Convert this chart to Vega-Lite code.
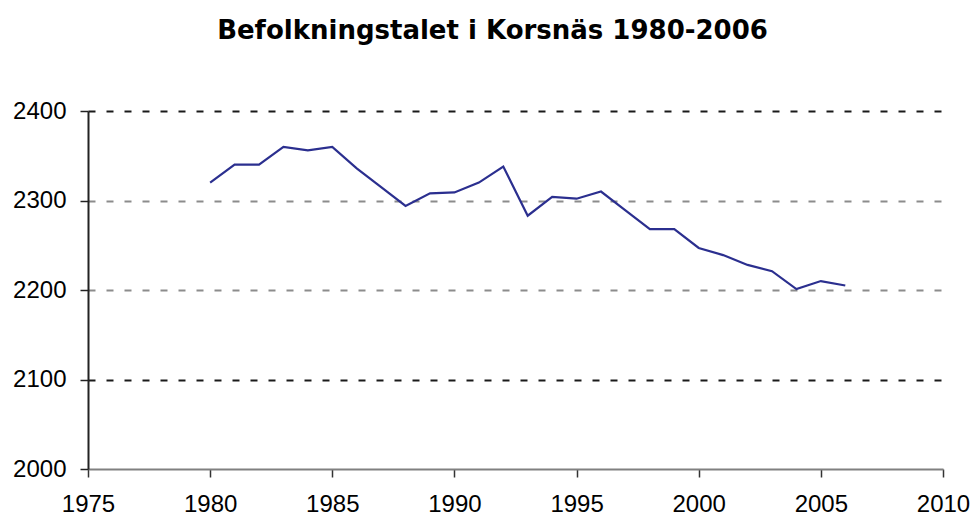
{
  "$schema": "https://vega.github.io/schema/vega-lite/v6.json",
  "width": 855,
  "height": 358,
  "autosize": "none",
  "padding": {"left": 88, "top": 111, "right": 30, "bottom": 49},
  "background": "white",
  "title": {
    "text": "Befolkningstalet i Korsnäs 1980-2006",
    "font": "DejaVu Sans",
    "fontSize": 26,
    "fontWeight": "bold",
    "color": "#000000",
    "anchor": "middle",
    "dx": -23,
    "offset": 55
  },
  "data": {
    "values": [
      {"year": 1980, "pop": 2320},
      {"year": 1981, "pop": 2340},
      {"year": 1982, "pop": 2340},
      {"year": 1983, "pop": 2360},
      {"year": 1984, "pop": 2356},
      {"year": 1985, "pop": 2360},
      {"year": 1986, "pop": 2336},
      {"year": 1987, "pop": 2315},
      {"year": 1988, "pop": 2294},
      {"year": 1989, "pop": 2308},
      {"year": 1990, "pop": 2309},
      {"year": 1991, "pop": 2320},
      {"year": 1992, "pop": 2338},
      {"year": 1993, "pop": 2283},
      {"year": 1994, "pop": 2304},
      {"year": 1995, "pop": 2302},
      {"year": 1996, "pop": 2310},
      {"year": 1997, "pop": 2289},
      {"year": 1998, "pop": 2268},
      {"year": 1999, "pop": 2268},
      {"year": 2000, "pop": 2247},
      {"year": 2001, "pop": 2239},
      {"year": 2002, "pop": 2228},
      {"year": 2003, "pop": 2221},
      {"year": 2004, "pop": 2201},
      {"year": 2005, "pop": 2210},
      {"year": 2006, "pop": 2205}
    ]
  },
  "mark": {"type": "line", "color": "#2B2F8F", "strokeWidth": 2.2},
  "encoding": {
    "x": {
      "field": "year",
      "type": "quantitative",
      "scale": {"domain": [1975, 2010], "nice": false, "zero": false},
      "axis": {
        "title": null,
        "values": [1975, 1980, 1985, 1990, 1995, 2000, 2005, 2010],
        "format": "d",
        "grid": false,
        "domainColor": "#808080",
        "domainWidth": 2,
        "tickColor": "#333333",
        "tickWidth": 1.5,
        "tickSize": 8,
        "labelFont": "Liberation Sans",
        "labelFontSize": 24,
        "labelColor": "#000000",
        "labelPadding": 15,
        "labelFlush": false
      }
    },
    "y": {
      "field": "pop",
      "type": "quantitative",
      "scale": {"domain": [2000, 2400], "nice": false, "zero": false},
      "axis": {
        "title": null,
        "values": [2000, 2100, 2200, 2300, 2400],
        "format": "d",
        "grid": true,
        "gridDash": [7, 11],
        "gridWidth": 2,
        "gridColor": {"condition": {"test": "datum.value == 2300 || datum.value == 2200", "value": "#8c8c8c"}, "value": "#1a1a1a"},
        "gridOpacity": {"condition": {"test": "datum.value == 2000", "value": 0}, "value": 1},
        "domainColor": "#222222",
        "domainWidth": 2,
        "tickColor": "#222222",
        "tickWidth": 1.5,
        "tickSize": 8,
        "labelFont": "Liberation Sans",
        "labelFontSize": 24,
        "labelColor": "#000000",
        "labelPadding": 14
      }
    }
  },
  "config": {"view": {"stroke": null}}
}
